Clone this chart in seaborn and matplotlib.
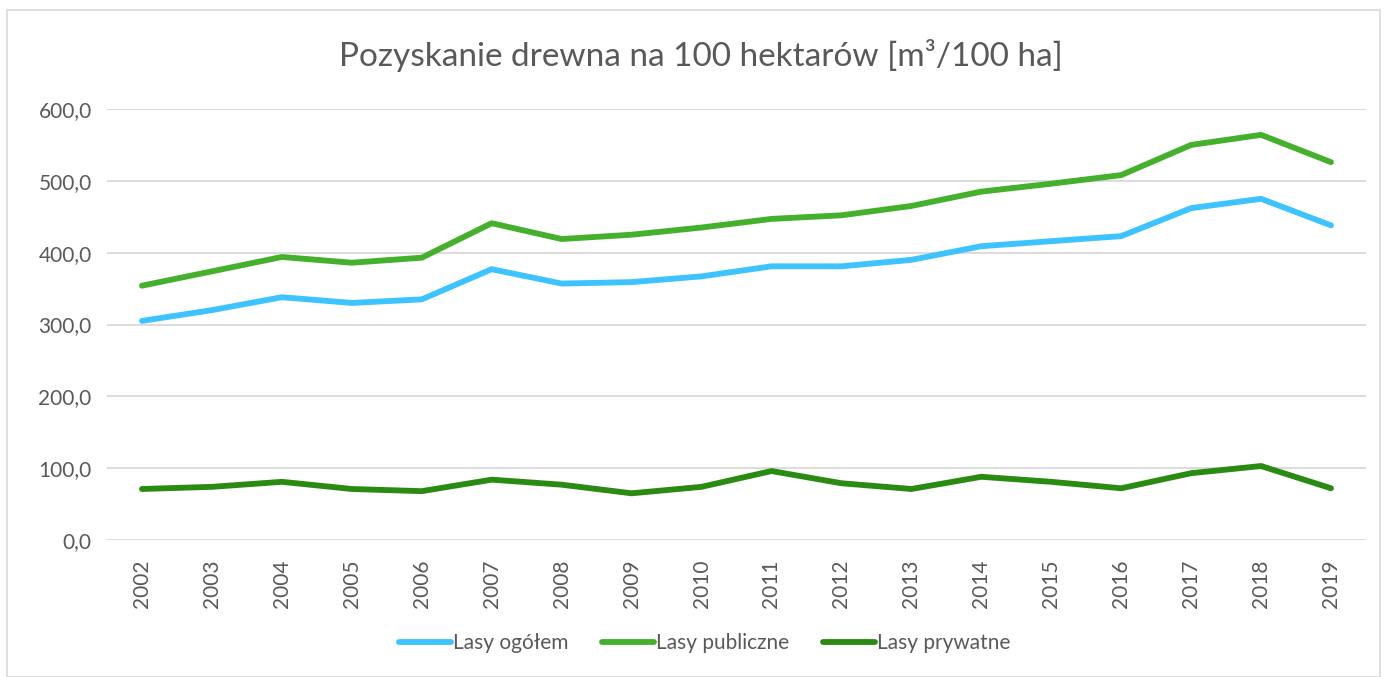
import seaborn as sns
import matplotlib.pyplot as plt
import pandas as pd
from matplotlib.patches import Rectangle
from matplotlib.ticker import FuncFormatter

years = list(range(2002, 2020))
lasy_ogolem = [305, 320, 338, 330, 335, 377, 357, 359, 367, 381, 381, 390, 409, 416, 423, 462, 475, 438]
lasy_publiczne = [354, 374, 394, 386, 393, 441, 419, 425, 435, 447, 452, 465, 485, 496, 508, 550, 564, 526]
lasy_prywatne = [71, 74, 81, 71, 68, 84, 77, 65, 74, 96, 79, 71, 88, 81, 72, 93, 103, 72]
series_names = ["Lasy ogółem", "Lasy publiczne", "Lasy prywatne"]
colors = ["#3DC3FF", "#45B02B", "#2A8B12"]

df = pd.DataFrame({
    "rok": years * 3,
    "wartosc": lasy_ogolem + lasy_publiczne + lasy_prywatne,
    "seria": [s for s in series_names for _ in years],
})

sns.set_style("white")
plt.rcParams['font.family'] = ['Lato', 'DejaVu Sans']
gray = "#595959"
fs = 15

fig = plt.figure(figsize=(13.87, 6.77), dpi=100)
ax = fig.add_axes([107 / 1387, 1 - 540 / 677, (1366 - 107) / 1387, (540 - 109) / 677])

sns.lineplot(data=df, x="rok", y="wartosc", hue="seria", palette=colors,
             linewidth=4.2, ax=ax, legend=False, solid_capstyle="round")

ax.set_xlim(2001.5, 2019.5)
ax.set_ylim(0, 600)
ax.set_yticks(range(0, 601, 100))
ax.yaxis.set_major_formatter(FuncFormatter(lambda v, p: f"{v:.1f}".replace(".", ",")))
ax.set_xticks(years)
ax.set_xticklabels([str(y) for y in years], rotation=90)
ax.tick_params(axis="both", length=0, labelsize=fs, colors=gray)
ax.tick_params(axis="x", pad=14)
ax.tick_params(axis="y", pad=11)
ax.grid(axis="y", color="#D9D9D9", linewidth=1.3)
ax.set_axisbelow(True)
for s in ax.spines.values():
    s.set_visible(False)
ax.set_xlabel("")
ax.set_ylabel("")

fig.text(0.505, 0.918, "Pozyskanie drewna na 100 hektarów [m³/100 ha]",
         ha="center", va="center", fontsize=24, color=gray)

handles = [plt.Line2D([], [], color=c, linewidth=4.2, solid_capstyle="round") for c in colors]
fig.legend(handles, series_names, loc="center", bbox_to_anchor=(0.508, 0.05), ncol=3,
           frameon=False, fontsize=fs, labelcolor=gray, handlelength=2.5,
           handletextpad=0.1, columnspacing=1.6)

fig.patches.append(Rectangle((7 / 1387, 0), 1 - 14 / 1387, 1 - 10 / 677,
                             transform=fig.transFigure, fill=False,
                             edgecolor="#D9D9D9", linewidth=1.2))

fig.savefig("out.png", dpi=100)
